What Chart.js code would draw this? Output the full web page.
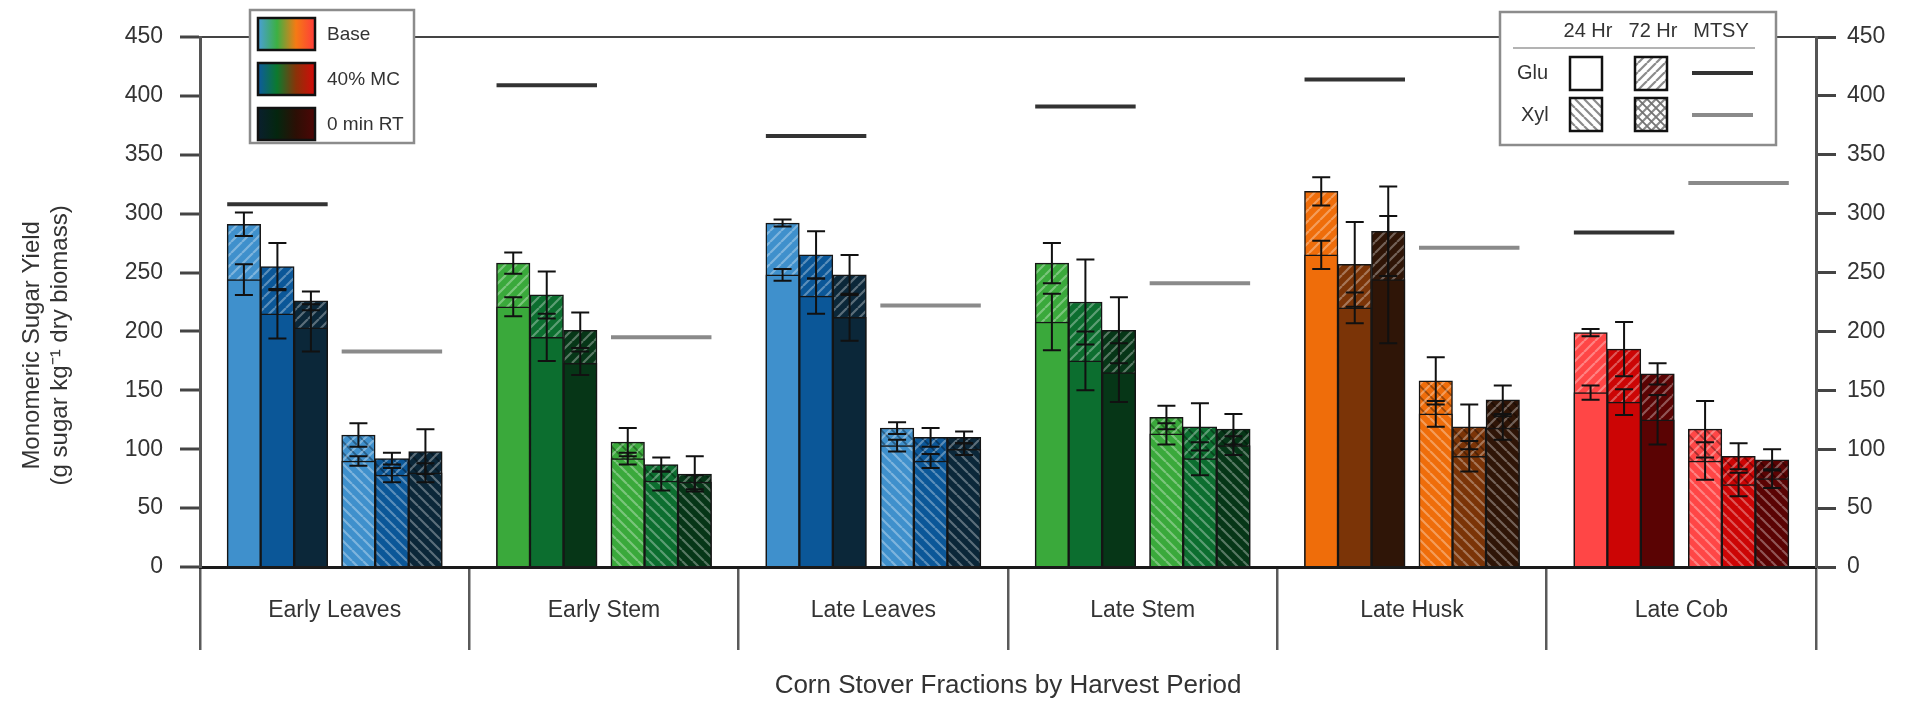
<!DOCTYPE html>
<html><head><meta charset="utf-8">
<script src="https://cdn.jsdelivr.net/npm/chart.js@4.4.1/dist/chart.umd.min.js"></script>
<style>html,body{margin:0;padding:0;background:#fff;}canvas{display:block;}</style>
</head><body>
<canvas id="c" width="1912" height="704"></canvas>
<script>
// ---------------- DATA ----------------
const categories = ['Early Leaves', 'Early Stem', 'Late Leaves', 'Late Stem', 'Late Husk', 'Late Cob'];
const yTickStep = 50;
const yMax = 450;

// Glucose yields (g sugar / kg dry biomass)
const gluBase72 = [291, 258, 292, 258, 319, 199];
const gluBase72Err = [10, 9, 3, 17, 12, 3];
const gluBase24 = [244, 221, 248, 208, 265, 148];
const gluBase24Err = [13, 8, 5, 24, 12, 6];
const gluMC72 = [255, 231, 265, 225, 257, 185];
const gluMC72Err = [20, 20, 20, 36, 36, 23];
const gluMC24 = [215, 195, 230, 175, 220, 140];
const gluMC24Err = [21, 20, 15, 25, 13, 11];
const gluRT72 = [226, 201, 248, 201, 285, 164];
const gluRT72Err = [8, 15, 17, 28, 38, 9];
const gluRT24 = [203, 173, 212, 165, 244, 125];
const gluRT24Err = [20, 10, 20, 25, 54, 21];

// Xylose yields
const xylBase72 = [112, 106, 118, 127, 158, 117];
const xylBase72Err = [10, 12, 5, 10, 20, 24];
const xylBase24 = [90, 92, 103, 113, 130, 90];
const xylBase24Err = [4, 5, 5, 9, 11, 16];
const xylMC72 = [92, 87, 110, 119, 119, 94];
const xylMC72Err = [5, 6, 8, 20, 19, 11];
const xylMC24 = [78, 73, 90, 92, 94, 70];
const xylMC24Err = [6, 8, 6, 14, 13, 10];
const xylRT72 = [98, 79, 110, 117, 142, 91];
const xylRT72Err = [19, 15, 5, 13, 12, 9];
const xylRT24 = [80, 72, 100, 103, 118, 75];
const xylRT24Err = [8, 6, 5, 8, 10, 8];

// Maximum theoretical sugar yield
const mtsyGlu = [308, 409, 366, 391, 414, 284];
const mtsyXyl = [183, 195, 222, 241, 271, 326];

// ---------------- STYLE / LAYOUT ----------------
const FONT = "'Liberation Sans', Arial, Helvetica, sans-serif";
const TEXT = '#333';
const catColors = [
  ['#3f90cc', '#0b5798', '#0b2739'],
  ['#3aa93b', '#0c6e2f', '#063617'],
  ['#3f90cc', '#0b5798', '#0b2739'],
  ['#3aa93b', '#0c6e2f', '#063617'],
  ['#ef6d0a', '#7b3407', '#2f1507'],
  ['#ff4646', '#cc0505', '#5a0303']
];
const SLOT_OFFSET = [-0.337, -0.2126, -0.0882, 0.0882, 0.2126, 0.337];
const MTSY_SPAN = { glu: [-0.399, -0.026], xyl: [0.026, 0.399] };
const BAR_PX = 33.5;

const ctx0 = document.getElementById('c').getContext('2d');
function makePattern(base, kind, light, dark, size) {
  if (kind === 'plain') return base;
  const s = size || 11;
  const c = document.createElement('canvas'); c.width = s; c.height = s;
  const g = c.getContext('2d');
  g.fillStyle = base; g.fillRect(0, 0, s, s);
  const slash = (col, w) => { g.strokeStyle = col; g.lineWidth = w; g.beginPath();
    for (const o of [-s, 0, s]) { g.moveTo(o, s); g.lineTo(o + s, 0); } g.stroke(); };
  const back = (col, w) => { g.strokeStyle = col; g.lineWidth = w; g.beginPath();
    for (const o of [-s, 0, s]) { g.moveTo(o, 0); g.lineTo(o + s, s); } g.stroke(); };
  light = light || 'rgba(255,255,255,0.33)';
  dark = dark || 'rgba(0,0,0,0.35)';
  if (kind === 'slash') slash(light, 2.2);
  if (kind === 'back') back(light, 2.2);
  if (kind === 'cross') { back(dark, 1.8); slash(light, 2.2); }
  return ctx0.createPattern(c, 'repeat');
}

const barSeries = [
  { name: 'Glu Base', slot: 0, t: 0, v72: gluBase72, e72: gluBase72Err, v24: gluBase24, e24: gluBase24Err, k72: 'slash', k24: 'plain' },
  { name: 'Glu 40% MC', slot: 1, t: 1, v72: gluMC72, e72: gluMC72Err, v24: gluMC24, e24: gluMC24Err, k72: 'slash', k24: 'plain' },
  { name: 'Glu 0 min RT', slot: 2, t: 2, v72: gluRT72, e72: gluRT72Err, v24: gluRT24, e24: gluRT24Err, k72: 'slash', k24: 'plain' },
  { name: 'Xyl Base', slot: 3, t: 0, v72: xylBase72, e72: xylBase72Err, v24: xylBase24, e24: xylBase24Err, k72: 'cross', k24: 'back' },
  { name: 'Xyl 40% MC', slot: 4, t: 1, v72: xylMC72, e72: xylMC72Err, v24: xylMC24, e24: xylMC24Err, k72: 'cross', k24: 'back' },
  { name: 'Xyl 0 min RT', slot: 5, t: 2, v72: xylRT72, e72: xylRT72Err, v24: xylRT24, e24: xylRT24Err, k72: 'cross', k24: 'back' }
];

const datasets = [];
barSeries.forEach(s => {
  const xs = categories.map((_, i) => i + 0.5 + SLOT_OFFSET[s.slot]);
  const common = { type: 'bar', xAxisID: 'x', yAxisID: 'y', grouped: false, barThickness: BAR_PX,
    borderColor: '#151515', borderWidth: 1.5, borderSkipped: 'bottom' };
  datasets.push(Object.assign({}, common, {
    label: s.name + ' 72 Hr', order: 3,
    data: xs.map((x, i) => ({ x, y: s.v72[i] })), errors: s.e72,
    backgroundColor: categories.map((_, i) => makePattern(catColors[i][s.t], s.k72))
  }));
  datasets.push(Object.assign({}, common, {
    label: s.name + ' 24 Hr', order: 2,
    data: xs.map((x, i) => ({ x, y: s.v24[i] })), errors: s.e24,
    backgroundColor: categories.map((_, i) => makePattern(catColors[i][s.t], s.k24))
  }));
});
function mtsyData(vals, span) {
  const out = [];
  vals.forEach((v, i) => { out.push({ x: i + 0.5 + span[0], y: v }, { x: i + 0.5 + span[1], y: v }, { x: i + 1, y: null }); });
  return out;
}
datasets.push({ type: 'line', label: 'Glu MTSY', order: 1, xAxisID: 'x', yAxisID: 'y', data: mtsyData(mtsyGlu, MTSY_SPAN.glu),
  borderColor: '#333', borderWidth: 4, pointRadius: 0, spanGaps: false, borderCapStyle: 'butt' });
datasets.push({ type: 'line', label: 'Xyl MTSY', order: 1, xAxisID: 'x', yAxisID: 'y', data: mtsyData(mtsyXyl, MTSY_SPAN.xyl),
  borderColor: '#8a8a8a', borderWidth: 4, pointRadius: 0, spanGaps: false, borderCapStyle: 'butt' });

// ---------------- PLUGINS ----------------
const errorBars = {
  id: 'errorBars',
  afterDatasetsDraw(chart) {
    const c = chart.ctx, ys = chart.scales.y;
    c.save(); c.strokeStyle = '#111'; c.lineWidth = 2;
    chart.data.datasets.forEach((ds, di) => {
      if (!ds.errors) return;
      const meta = chart.getDatasetMeta(di);
      meta.data.forEach((el, i) => {
        const v = ds.data[i].y, e = ds.errors[i];
        const yt = ys.getPixelForValue(v + e), yb = ys.getPixelForValue(v - e), x = el.x, hw = 9;
        c.beginPath();
        c.moveTo(x, yt); c.lineTo(x, yb);
        c.moveTo(x - hw, yt); c.lineTo(x + hw, yt);
        c.moveTo(x - hw, yb); c.lineTo(x + hw, yb);
        c.stroke();
      });
    });
    c.restore();
  }
};

const legends = {
  id: 'legends',
  afterDraw(chart) {
    const c = chart.ctx;
    c.save();
    // left legend: treatments
    c.fillStyle = '#fff'; c.fillRect(250, 10, 164, 133);
    c.strokeStyle = '#8c8c8c'; c.lineWidth = 2.5; c.strokeRect(250, 10, 164, 133);
    const grads = [
      ['#4a9fd8', '#3cb043', '#f57a14', '#ff3b3b'],
      ['#0d5aa0', '#0c7a2e', '#8a3208', '#d40a0a'],
      ['#0a1f2e', '#04260f', '#2c0f05', '#4e0606']
    ];
    const names = ['Base', '40% MC', '0 min RT'];
    names.forEach((n, k) => {
      const y = 18 + k * 45;
      const g = c.createLinearGradient(258, 0, 315, 0);
      grads[k].forEach((col, j) => g.addColorStop(j / 3, col));
      c.fillStyle = g; c.fillRect(258, y, 57, 32);
      c.strokeStyle = '#111'; c.lineWidth = 2.5; c.strokeRect(258, y, 57, 32);
      c.fillStyle = TEXT; c.font = '19px ' + FONT; c.textAlign = 'left'; c.textBaseline = 'middle';
      c.fillText(n, 327, y + 17);
    });
    // right legend: time / sugar
    c.fillStyle = '#fff'; c.fillRect(1500, 12, 276, 133);
    c.strokeStyle = '#8c8c8c'; c.lineWidth = 2.5; c.strokeRect(1500, 12, 276, 133);
    c.fillStyle = TEXT; c.font = '20px ' + FONT; c.textAlign = 'center'; c.textBaseline = 'middle';
    c.fillText('24 Hr', 1588, 31); c.fillText('72 Hr', 1653, 31); c.fillText('MTSY', 1721, 31);
    c.strokeStyle = '#9a9a9a'; c.lineWidth = 1.5; c.beginPath(); c.moveTo(1513, 48); c.lineTo(1755, 48); c.stroke();
    c.textAlign = 'left';
    c.fillText('Glu', 1517, 73); c.fillText('Xyl', 1521, 115);
    const sw = [
      [1570, 57, 'plain'], [1635, 57, 'slash'], [1570, 98, 'back'], [1635, 98, 'cross']
    ];
    sw.forEach(([x, y, k]) => {
      c.fillStyle = makePattern('#ffffff', k, 'rgba(110,110,110,0.8)', 'rgba(80,80,80,0.8)', 9);
      c.fillRect(x, y, 32, 33);
      c.strokeStyle = '#111'; c.lineWidth = 2.5; c.strokeRect(x, y, 32, 33);
    });
    c.lineWidth = 4; c.strokeStyle = '#333'; c.beginPath(); c.moveTo(1692, 73); c.lineTo(1753, 73); c.stroke();
    c.strokeStyle = '#8a8a8a'; c.beginPath(); c.moveTo(1692, 115); c.lineTo(1753, 115); c.stroke();
    c.restore();
  }
};

// ---------------- CHART ----------------
const pad = ' '.repeat(13);
new Chart(document.getElementById('c'), {
  data: { datasets },
  options: {
    responsive: false, animation: false, devicePixelRatio: 1,
    layout: { padding: { top: 37, left: 0, right: 0, bottom: 0 } },
    plugins: { legend: { display: false }, tooltip: { enabled: false } },
    scales: {
      x: { type: 'linear', min: 0, max: categories.length, offset: false, bounds: 'ticks', display: false,
        grid: { offset: false } },
      xcat: {
        type: 'category', labels: categories, position: 'bottom', offset: true,
        grid: { offset: true, drawOnChartArea: false, drawTicks: true, tickLength: 83, color: '#5a5a5a', lineWidth: 2.5 },
        border: { display: true, color: '#1a1a1a', width: 3 },
        ticks: { padding: -53, color: TEXT, font: { family: FONT, size: 23 }, maxRotation: 0, autoSkip: false },
        title: { display: true, text: 'Corn Stover Fractions by Harvest Period', color: TEXT,
          font: { family: FONT, size: 26 }, padding: { top: 0, bottom: 3 } },
        afterFit: s => { s.height = 137; }
      },
      y: {
        type: 'linear', position: 'left', min: 0, max: yMax,
        ticks: { stepSize: yTickStep, color: TEXT, font: { family: FONT, size: 23 }, padding: 17 },
        grid: { drawOnChartArea: true, color: c => c.tick && c.tick.value === yMax ? '#444' : 'rgba(0,0,0,0)',
          lineWidth: 2, tickLength: 20, tickColor: '#444', tickWidth: 3 },
        border: { display: true, color: '#555', width: 3 },
        title: { display: true, text: ['Monomeric Sugar Yield' + pad, '(g sugar kg\u207B\u00B9 dry biomass)' + pad],
          color: TEXT, font: { family: FONT, size: 24, lineHeight: 1.17 }, padding: { top: 18, bottom: 0 } },
        afterFit: s => { s.width = 200; }
      },
      y2: {
        type: 'linear', position: 'right', min: 0, max: yMax,
        ticks: { stepSize: yTickStep, color: TEXT, font: { family: FONT, size: 23 }, padding: 11 },
        grid: { drawOnChartArea: false, tickLength: 20, tickColor: '#444', tickWidth: 3 },
        border: { display: true, color: '#555', width: 3 },
        afterFit: s => { s.width = 96; }
      }
    }
  },
  plugins: [errorBars, legends]
});
</script>
</body></html>
